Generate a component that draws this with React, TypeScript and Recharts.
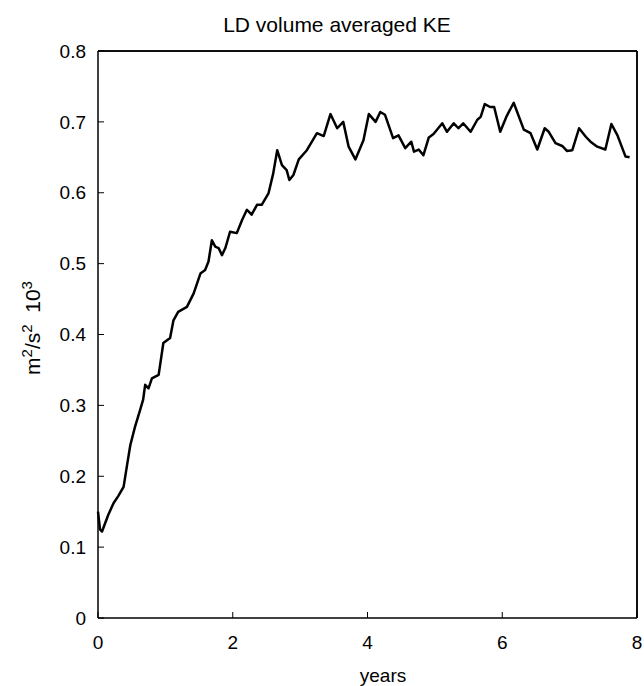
import { LineChart, Line, XAxis, YAxis, ReferenceLine, Customized } from "recharts";

// time axis, years
const years = [
    0.00, 0.03, 0.06, 0.15, 0.23, 0.30, 0.38, 0.43, 0.48, 0.55, 0.62, 0.67, 0.70, 0.75, 0.80, 0.90,
    0.97, 1.07, 1.12, 1.19, 1.32, 1.42, 1.52, 1.59, 1.64, 1.69, 1.74, 1.79, 1.84, 1.89, 1.96, 2.06,
    2.14, 2.21, 2.28, 2.36, 2.43, 2.53, 2.60, 2.66, 2.73, 2.80, 2.84, 2.90, 2.98, 3.10, 3.25, 3.35,
    3.45, 3.55, 3.64, 3.72, 3.82, 3.94, 4.02, 4.12, 4.19, 4.26, 4.38, 4.46, 4.56, 4.65, 4.69, 4.76,
    4.83, 4.91, 4.98, 5.11, 5.18, 5.28, 5.35, 5.42, 5.53, 5.63, 5.68, 5.74, 5.82, 5.88, 5.97, 6.06,
    6.17, 6.32, 6.42, 6.52, 6.63, 6.69, 6.79, 6.89, 6.96, 7.04, 7.14, 7.24, 7.31, 7.41, 7.53, 7.62,
    7.71, 7.83, 7.89,
];

// volume averaged KE (m^2/s^2 x 10^3)
const ke = [
    0.150, 0.125, 0.122, 0.145, 0.162, 0.172, 0.185, 0.215, 0.244, 0.270, 0.292, 0.308, 0.329, 0.324, 0.338, 0.343,
    0.388, 0.395, 0.420, 0.432, 0.439, 0.458, 0.486, 0.491, 0.503, 0.533, 0.524, 0.522, 0.512, 0.522, 0.545, 0.543,
    0.562, 0.576, 0.569, 0.583, 0.583, 0.599, 0.627, 0.660, 0.639, 0.632, 0.618, 0.625, 0.647, 0.660, 0.684, 0.680,
    0.711, 0.691, 0.700, 0.665, 0.647, 0.674, 0.711, 0.700, 0.714, 0.710, 0.677, 0.681, 0.663, 0.672, 0.658, 0.661,
    0.653, 0.678, 0.683, 0.698, 0.686, 0.698, 0.691, 0.698, 0.686, 0.703, 0.707, 0.725, 0.721, 0.721, 0.686, 0.707,
    0.727, 0.689, 0.684, 0.661, 0.691, 0.686, 0.670, 0.666, 0.659, 0.660, 0.691, 0.679, 0.672, 0.665, 0.661, 0.697,
    0.681, 0.651, 0.650,
];

const xTicks = [0, 2, 4, 6, 8];
const yTicks = [0, 0.1, 0.2, 0.3, 0.4, 0.5, 0.6, 0.7, 0.8];

const data = years.map((t, i) => ({ year: t, ke: ke[i] }));

const FONT = "'Liberation Sans', Arial, Helvetica, sans-serif";
const TICK = { fill: '#000', fontSize: 19, fontFamily: FONT };
const AXIS_LINE = { stroke: '#000', strokeWidth: 1.5 };
const TICK_LINE = { stroke: '#000', strokeWidth: 1 };

function Labels() {
    return (
        <g fontFamily={FONT} fill="#000">
            <text x={337} y={32} fontSize={21} textAnchor="middle">LD volume averaged KE</text>
            <text x={383} y={682} fontSize={19} textAnchor="middle">years</text>
            <text x={40} y={328} fontSize={21} textAnchor="middle" transform="rotate(-90 40 328)">
                m<tspan fontSize={15} dy={-8}>2</tspan>
                <tspan dy={8}>/s</tspan>
                <tspan fontSize={15} dy={-8}>2</tspan>
                <tspan dy={8}>{'\u00A0\u00A010'}</tspan>
                <tspan fontSize={15} dy={-8}>3</tspan>
            </text>
        </g>
    );
}

export default function App() {
    return (
        <div style={{ position: 'absolute', left: 0, top: 0, background: '#fff' }}>
            <LineChart width={644} height={686} data={data}
                margin={{ top: 50, right: 6, left: 38, bottom: 38 }}>
                <XAxis dataKey="year" type="number" domain={[0, 8]} ticks={xTicks}
                    axisLine={AXIS_LINE} tickLine={TICK_LINE} tick={TICK}
                    tickSize={-6} tickMargin={24} height={30} />
                <XAxis xAxisId="top" dataKey="year" orientation="top" type="number" domain={[0, 8]} ticks={xTicks}
                    axisLine={AXIS_LINE} tickLine={TICK_LINE} tick={false} tickSize={-6} height={1} />
                <YAxis type="number" domain={[0, 0.8]} ticks={yTicks}
                    tickFormatter={v => v === 0 ? '0' : v.toFixed(1)}
                    axisLine={AXIS_LINE} tickLine={TICK_LINE} tick={TICK}
                    tickSize={-6} tickMargin={18} width={60} />
                <YAxis yAxisId="right" orientation="right" type="number" domain={[0, 0.8]} ticks={yTicks}
                    axisLine={AXIS_LINE} tickLine={TICK_LINE} tick={false} tickSize={-6} width={1} />
                {/* frame lines on top and right */}
                <ReferenceLine y={0.8} stroke="#000" strokeWidth={1.5} ifOverflow="visible" />
                <ReferenceLine x={8} stroke="#000" strokeWidth={1.5} ifOverflow="visible" />
                {/* invisible copy so the top/right frame axes get their ticks */}
                <Line xAxisId="top" yAxisId="right" dataKey="ke" type="linear" stroke="none"
                    dot={false} activeDot={false} isAnimationActive={false} />
                <Line dataKey="ke" type="linear" stroke="#000" strokeWidth={2.5} dot={false}
                    strokeLinejoin="round" isAnimationActive={false} />
                <Customized component={Labels} />
            </LineChart>
        </div>
    );
}
